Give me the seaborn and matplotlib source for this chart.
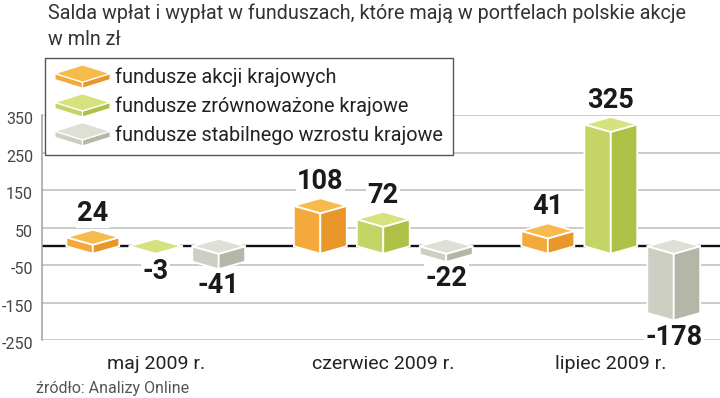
import matplotlib
matplotlib.use("Agg")
import matplotlib.pyplot as plt
import matplotlib.transforms as mtransforms
from matplotlib.patches import Polygon, Patch
from matplotlib.legend_handler import HandlerBase
import seaborn as sns
import pandas as pd

# ---- data ----
months = ["maj 2009 r.", "czerwiec 2009 r.", "lipiec 2009 r."]
funds = ["fundusze akcji krajowych",
         "fundusze zrównoważone krajowe",
         "fundusze stabilnego wzrostu krajowe"]
akcji = [24, 108, 41]
zrownowazone = [-3, 72, 325]
stabilnego = [-41, -22, -178]
y_ticks = [-250, -150, -50, 50, 150, 250, 350]

title_lines = ["Salda wpłat i wypłat w funduszach, które mają w portfelach polskie akcje",
               "w mln zł"]
source = "źródło: Analizy Online"

# ---- styling ----
top_cols = ["#F7BA4C", "#D6E27E", "#DEDFD5"]
left_cols = ["#F4AA3A", "#C5D565", "#CECFC3"]
right_cols = ["#E9962A", "#AFC047", "#B4B6A8"]

sns.set_theme(style="white")
plt.rcParams["font.family"] = ["Roboto", "DejaVu Sans"]

df = pd.DataFrame({
    "month": months * 3,
    "fund": [funds[0]] * 3 + [funds[1]] * 3 + [funds[2]] * 3,
    "value": akcji + zrownowazone + stabilnego,
})

fig = plt.figure(figsize=(7.2, 3.98), dpi=100)
ax = fig.add_axes([42 / 720, 1 - 340 / 398, 1 - 42 / 720, (340 - 115) / 398])

sns.barplot(data=df, x="month", y="value", hue="fund", order=months,
            hue_order=funds, palette=left_cols, width=0.83, gap=0.16,
            errorbar=None, legend=False, ax=ax)

D = 20  # depth of the pseudo-3D top (data units)
for ci, cont in enumerate(ax.containers):
    for bar in cont:
        x0 = bar.get_x()
        w = bar.get_width()
        y0 = bar.get_y()
        h = bar.get_height()
        x1 = x0 + w
        xm = x0 + w / 2
        t = max(y0, y0 + h)
        b = min(y0, y0 + h)
        bar.set_visible(False)
        kw = dict(ec="white", lw=1.3, joinstyle="miter", zorder=3)
        ax.add_patch(Polygon([(x0, t), (xm, t - D), (xm, b - D), (x0, b)],
                             fc=left_cols[ci], **kw))
        ax.add_patch(Polygon([(xm, t - D), (x1, t), (x1, b), (xm, b - D)],
                             fc=right_cols[ci], **kw))
        ax.add_patch(Polygon([(x0, t), (xm, t + D), (x1, t), (xm, t - D)],
                             fc=top_cols[ci], **kw))
        val = y0 + h
        if val >= 0:
            anchor, off = t + D, 12
        else:
            anchor, off = b - D, -12
        ax.annotate(f"{val:.0f}", xy=(xm, anchor), xytext=(0, off),
                    textcoords="offset points", ha="center", va="center",
                    fontsize=19.5, fontweight="bold", color="#1a1a1a",
                    annotation_clip=False, zorder=5,
                    bbox=dict(fc="white", ec="none", pad=1.0))

ax.axhline(0, color="#111111", lw=1.7, zorder=2)
ax.set_ylim(-250, 350)
ax.set_xlim(-0.5, 2.48)
ax.set_yticks(y_ticks)
ax.set_yticklabels([str(v) for v in y_ticks])
ax.yaxis.grid(True, color="#BDBDBD", lw=1.1)
ax.set_axisbelow(True)
for s in ["top", "right", "bottom"]:
    ax.spines[s].set_visible(False)
ax.spines["left"].set_color("#A0A0A0")
ax.spines["left"].set_linewidth(1.1)
ax.tick_params(axis="y", length=0, pad=6.5, labelsize=11.5, labelcolor="#444444")
ax.tick_params(axis="x", length=0, pad=10.5, labelsize=14, labelcolor="#222222")
ax.set_xlabel("")
ax.set_ylabel("")
shift = mtransforms.ScaledTranslation(0, -3 / 100, fig.dpi_scale_trans)
for lab in ax.get_yticklabels():
    lab.set_transform(lab.get_transform() + shift)


class SlabHandler(HandlerBase):
    def __init__(self, top, left, right):
        super().__init__()
        self.cols = (top, left, right)

    def create_artists(self, legend, orig_handle, xdescent, ydescent,
                       width, height, fontsize, trans):
        top, left, right = self.cols
        x0 = -xdescent
        x1 = x0 + width
        xm = (x0 + x1) / 2
        yc = -ydescent + height / 2
        hh = 6.2
        th = 4.4
        ys = yc + th / 2
        kw = dict(ec="white", lw=0.9, joinstyle="miter", transform=trans)
        p1 = Polygon([(x0, ys), (xm, ys - hh), (xm, ys - hh - th), (x0, ys - th)],
                     fc=left, **kw)
        p2 = Polygon([(xm, ys - hh), (x1, ys), (x1, ys - th), (xm, ys - hh - th)],
                     fc=right, **kw)
        p3 = Polygon([(x0, ys), (xm, ys + hh), (x1, ys), (xm, ys - hh)],
                     fc=top, **kw)
        return [p1, p2, p3]


handles = [Patch(fc=left_cols[i], label=funds[i]) for i in range(3)]
hmap = {handles[i]: SlabHandler(top_cols[i], left_cols[i], right_cols[i]) for i in range(3)}
leg = ax.legend(handles=handles, labels=funds, handler_map=hmap,
                loc="upper left", bbox_to_anchor=(45 / 720, 1 - 58 / 398),
                bbox_transform=fig.transFigure, borderaxespad=0,
                fontsize=14.3, frameon=True, fancybox=False, framealpha=1,
                edgecolor="#555555", facecolor="white",
                handlelength=2.78, handleheight=0.9, handletextpad=0.26,
                labelspacing=0.47, borderpad=0.5)
leg.get_frame().set_linewidth(1.0)
leg.set_zorder(10)
for txt in leg.get_texts():
    txt.set_color("#222222")

fig.text(48 / 720, 1 - 19 / 398, title_lines[0], fontsize=14.2, color="#333333",
         va="baseline", ha="left")
fig.text(48 / 720, 1 - 45 / 398, title_lines[1], fontsize=14.2, color="#333333",
         va="baseline", ha="left")
fig.text(36 / 720, 1 - 388 / 398, source, fontsize=11.5, color="#555555",
         va="center", ha="left")

fig.savefig("out.png", dpi=100)
